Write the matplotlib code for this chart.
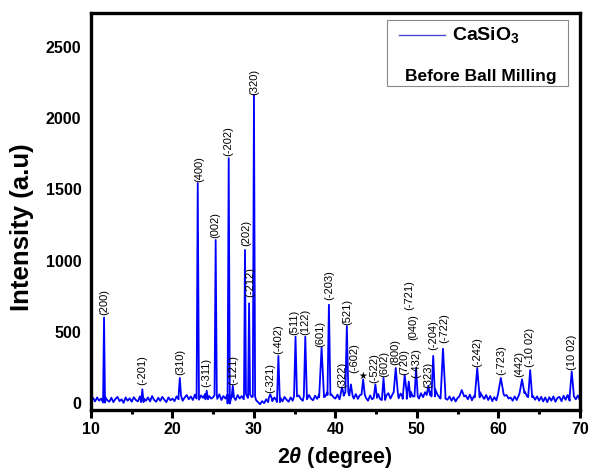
import numpy as np
import matplotlib
matplotlib.use('Agg')
import matplotlib.pyplot as plt
from matplotlib.patches import Rectangle

plt.rcParams['font.family'] = ['Liberation Sans', 'DejaVu Sans']
plt.rcParams['mathtext.fontset'] = 'custom'
plt.rcParams['mathtext.rm'] = 'Liberation Sans:bold'
plt.rcParams['mathtext.it'] = 'Liberation Sans:italic:bold'

# background (baseline) of the pattern, 10..70 deg every 0.25 deg
bg_start, bg_step = 10.0, 0.25
bg_int = [
    5, 35, 10, 38, 15, 30, 2, 40, 18, 8, 36, 5, 28, 42, 12, 25, 0, 38, 15, 32,
    8, 40, 20, 10, 45, 5, 30, 15, 38, 10, 48, 20, 8, 36, 14, 42, 22, 5, 38, 18,
    30, 12, 45, 25, 50, 15, 38, 55, 25, 45, 20, 58, 30, 22, 52, 35, 62, 25, 48, 30,
    40, 55, 28, 60, 20, 48, 30, 58, -5, 50, 38, 20, 55, 30, 48, 25, 62, 35, 58, 40,
    45, 20, 5, -10, 12, -2, 25, 5, 30, 12, 38, 18, 5, 35, 10, 42, 22, 8, 38, 15,
    45, 22, 52, 28, 15, 48, 25, 55, 30, 18, 50, 28, 58, 40, 65, 45, 75, 55, 60, 40,
    30, 58, 25, 50, 65, 42, 75, 55, 52, 30, 62, 28, 55, 20, 58, 35, 15, 52, 25, 55,
    35, 62, 25, 58, 20, 52, 68, 30, 60, 38, 75, 32, 65, 42, 28, 72, 40, 78, 45, 70,
    45, 30, 68, 40, 75, 85, 55, 80, 45, 95, 60, 40, 68, 30, 55, 22, 45, 15, 40, 10,
    35, 8, 45, 15, 52, 25, 58, 18, 48, 70, 38, 75, 50, 28, 55, 20, 48, 12, 40, 18,
    45, 60, 75, 50, 55, 30, 38, 15, 45, 20, 52, 28, 68, 78, 48, 72, 40, 48, 22, 45,
    15, 42, 10, 38, 5, 40, 15, 45, 8, 35, 42, 12, 50, 22, 55, 15, 48, 60, 25, 52,
    20,
]

# reflections
peak_2theta = [11.6, 16.3, 20.9, 23.1, 24.2, 25.3, 26.9, 27.4, 28.9, 29.4, 30.0,
               32.0, 33.0, 35.1, 36.3, 38.3, 39.2, 40.8, 41.4, 41.9, 43.4, 44.9,
               45.9, 47.4, 48.5, 49.0, 49.9, 51.4, 52.0, 53.2, 55.5, 57.4, 60.3,
               62.9, 63.9, 69.0]
peak_int = [600, 95, 175, 1545, 85, 1145, 1720, 120, 1075, 700, 2165,
            60, 330, 465, 465, 390, 690, 110, 540, 130, 165, 130,
            175, 245, 195, 150, 245, 120, 330, 380, 90, 245, 175,
            165, 230, 220]
peak_width = [0.12, 0.15, 0.15, 0.14, 0.15, 0.14, 0.14, 0.15, 0.12, 0.12, 0.14,
              0.2, 0.18, 0.18, 0.18, 0.3, 0.18, 0.2, 0.18, 0.2, 0.2, 0.2,
              0.2, 0.25, 0.25, 0.2, 0.2, 0.2, 0.22, 0.3, 0.3, 0.3, 0.35,
              0.3, 0.25, 0.25]

hkl_labels = ['(200)', '(-201)', '(310)', '(400)', '(-311)', '(002)', '(-202)',
              '(-121)', '(202)', '(-212)', '(320)', '(-321)', '(-402)', '(511)',
              '(122)', '(601)', '(-203)', '(322)', '(521)', '(-602)', '(-522)',
              '(602)', '(800)', '(720)', '(-721)', '(040)', '(-432)', '(323)',
              '(-204)', '(-722)', '(-242)', '(-723)', '(442)', '(-10 02)', '(10 02)']
label_2theta = [11.6, 16.3, 20.9, 23.25, 24.2, 25.3, 26.9, 27.4, 29.0, 29.6, 30.0,
                32.0, 32.95, 35.0, 36.3, 38.1, 39.2, 40.8, 41.5, 42.3, 44.75,
                46.05, 47.3, 48.5, 49.1, 49.5, 49.95, 51.35, 51.95, 53.3, 57.4,
                60.3, 62.5, 63.85, 69.0]
label_int = [620, 125, 195, 1550, 112, 1160, 1735, 125, 1100, 745, 2165,
             70, 340, 475, 475, 395, 725, 105, 550, 210, 140,
             185, 265, 195, 655, 440, 175, 105, 370, 420, 255,
             195, 185, 255, 230]
star_2theta, star_int = 43.4, 190

# build the curve: background points + triangular peaks
bg_x = bg_start + bg_step * np.arange(len(bg_int))
bg_y = np.array(bg_int, dtype=float)
keep = np.ones(len(bg_x), dtype=bool)
px, py = [], []
for p, h, w in zip(peak_2theta, peak_int, peak_width):
    keep &= ~((bg_x > p - w) & (bg_x < p + w))
    i = int(round((p - bg_start) / bg_step))
    b = bg_y[i]
    px += [p - w, p, p + w]
    py += [b, h, b]
x = np.concatenate([bg_x[keep], px])
y = np.concatenate([bg_y[keep], py])
order = np.argsort(x, kind='stable')
x, y = x[order], y[order]

fig = plt.figure(figsize=(5.89, 4.68), dpi=100)
ax = fig.add_axes([0.1545, 0.124, 0.830, 0.848])
ax.plot(x, y, color='#0000ff', lw=1.3)

for lab, lx, ly in zip(hkl_labels, label_2theta, label_int):
    ax.text(lx, ly, lab, rotation=90, ha='center', va='bottom', fontsize=8)
ax.text(star_2theta, star_int, '\u2605', ha='center', va='center', fontsize=7,
        family='DejaVu Sans')

ax.set_xlim(10, 70)
ax.set_ylim(-50, 2740)
ax.set_xticks(range(10, 71, 10))
ax.set_xticks(range(15, 70, 10), minor=True)
ax.set_yticks(range(0, 2501, 500))
ax.tick_params(axis='x', which='major', direction='out', length=6, width=2.2,
               labelsize=11.5, pad=3)
ax.tick_params(axis='x', which='minor', direction='out', length=3, width=2.2)
ax.tick_params(axis='y', length=0, labelsize=11.5, pad=7)
for lbl in ax.get_xticklabels() + ax.get_yticklabels():
    lbl.set_fontweight('bold')
for s in ax.spines.values():
    s.set_linewidth(2.4)

fig.text(22 / 589, 1 - 227 / 468, 'Intensity (a.u)', rotation=90,
         fontsize=18.5, fontweight='bold', ha='center', va='center')
fig.text(335 / 589, 1 - 457 / 468, r'$2\mathit{\theta}$ (degree)',
         fontsize=15.5, fontweight='bold', ha='center', va='center')

# legend box
ax.add_patch(Rectangle((0.605, 0.816), 0.37, 0.166, transform=ax.transAxes,
                       fill=False, edgecolor='#888888', lw=0.8, zorder=5))
ax.plot([0.630, 0.724], [0.945, 0.945], transform=ax.transAxes,
        color='#4a4ad8', lw=1.0)
ax.text(0.738, 0.945, r'CaSiO$_\mathregular{3}$', transform=ax.transAxes,
        fontsize=14, fontweight='bold', va='center', ha='left')
ax.text(0.642, 0.841, 'Before Ball Milling', transform=ax.transAxes,
        fontsize=12.5, fontweight='bold', va='center', ha='left')

fig.savefig('out.png', dpi=100)
